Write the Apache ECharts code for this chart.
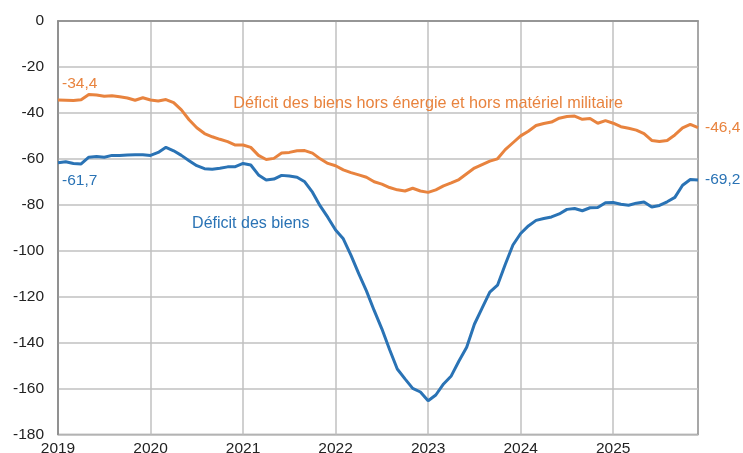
<!DOCTYPE html>
<html>
<head>
<meta charset="utf-8">
<script src="https://cdn.jsdelivr.net/npm/echarts@6/dist/echarts.min.js"></script>
<style>
html,body{margin:0;padding:0;background:#fff;}
#chart{width:743px;height:453px;}
</style>
</head>
<body>
<div id="chart"></div>
<script>
// Monthly data, Jan 2019 - Dec 2025
const years = ['2019','2020','2021','2022','2023','2024','2025'];
const months = [];
years.forEach(y => { for (let m = 1; m <= 12; m++) months.push(y + '-' + String(m).padStart(2,'0')); });

const horsEnergie = [
  -34.4,-34.5,-34.6,-34.3,-32.0,-32.2,-32.8,-32.5,-33.0,-33.5,-34.5,-33.4,
  -34.4,-34.8,-34.2,-35.5,-38.7,-43.0,-46.5,-49.0,-50.4,-51.5,-52.5,-54.0,
  -54.0,-55.0,-58.5,-60.3,-59.8,-57.5,-57.2,-56.5,-56.4,-57.5,-60.0,-62.0,
  -63.0,-64.8,-66.0,-67.0,-68.0,-70.0,-71.0,-72.5,-73.5,-74.0,-72.8,-74.0,
  -74.6,-73.5,-71.8,-70.5,-69.0,-66.5,-64.0,-62.5,-61.0,-60.0,-56.0,-53.0,
  -50.0,-48.0,-45.5,-44.6,-44.0,-42.3,-41.6,-41.4,-42.8,-42.4,-44.5,-43.4,
  -44.5,-46.0,-46.7,-47.5,-49.0,-52.0,-52.5,-52.0,-49.6,-46.5,-45.0,-46.4
];
const biens = [
  -61.7,-61.3,-62.0,-62.2,-59.3,-59.0,-59.3,-58.5,-58.6,-58.3,-58.2,-58.2,
  -58.5,-57.2,-55.0,-56.5,-58.5,-60.8,-63.0,-64.3,-64.5,-64.1,-63.5,-63.4,
  -62.0,-62.7,-67.0,-69.2,-68.8,-67.2,-67.5,-68.0,-70.0,-74.5,-80.5,-85.5,
  -91.0,-94.8,-102.0,-110.0,-117.5,-126.0,-134.0,-143.0,-151.5,-155.8,-159.9,-161.5,
  -165.3,-162.8,-158.0,-154.5,-148.0,-142.0,-132.0,-125.0,-118.0,-115.0,-106.0,-97.5,
  -92.5,-89.2,-86.8,-86.0,-85.3,-84.0,-82.0,-81.6,-82.6,-81.3,-81.2,-79.1,
  -79.0,-79.8,-80.2,-79.3,-78.8,-81.0,-80.3,-78.7,-76.8,-71.5,-69.0,-69.2
];
const yTicks = {min: -180, max: 0, interval: 20};
const nameOrange = 'Déficit des biens hors énergie et hors matériel militaire';
const nameBlue = 'Déficit des biens';

const BLUE = '#2a73b5';
const ORANGE = '#e8833e';
const fmt = v => String(v).replace('.', ',');
const tf = 'Liberation Sans, Arial, sans-serif';

const chart = echarts.init(document.getElementById('chart'));
const isJan = (i) => i % 12 === 0;
chart.setOption({
  animation: false,
  grid: {left: 58, right: 45, top: 21, bottom: 18.5, outerBoundsMode: 'none', containLabel: false,
         show: true, borderColor: '#8a8a8a', borderWidth: 1.5, backgroundColor: 'transparent'},
  xAxis: {
    type: 'category', data: months, boundaryGap: false,
    axisLine: {lineStyle: {color: '#8a8a8a', width: 1.5}},
    axisTick: {show: false},
    axisLabel: {
      interval: (i) => isJan(i), margin: 6,
      formatter: v => v.slice(0,4),
      color: '#222', fontSize: 15.5, fontFamily: tf
    },
    splitLine: {show: true, interval: (i) => isJan(i) && i > 0, lineStyle: {color: '#c0c0c0', width: 1.5}}
  },
  yAxis: {
    type: 'value', min: yTicks.min, max: yTicks.max, interval: yTicks.interval,
    axisLine: {show: true, lineStyle: {color: '#8a8a8a', width: 1.5}},
    axisTick: {show: false},
    axisLabel: {margin: 14, color: '#222', fontSize: 15.5, fontFamily: tf},
    splitLine: {show: true, lineStyle: {color: '#c0c0c0', width: 1.5}}
  },
  series: [
    {
      name: nameOrange, type: 'line', data: horsEnergie, showSymbol: false, symbol: 'none',
      lineStyle: {color: ORANGE, width: 3}, itemStyle: {color: ORANGE},
      endLabel: {show: true, formatter: p => fmt(p.value), color: ORANGE, fontSize: 15.5, distance: 7, fontFamily: tf}
    },
    {
      name: nameBlue, type: 'line', data: biens, showSymbol: false, symbol: 'none',
      lineStyle: {color: BLUE, width: 3}, itemStyle: {color: BLUE},
      endLabel: {show: true, formatter: p => fmt(p.value), color: BLUE, fontSize: 15.5, distance: 7, fontFamily: tf}
    }
  ]
});

// Annotations placed relative to data via the chart's own scales
const p0o = chart.convertToPixel({gridIndex: 0}, [0, horsEnergie[0]]);
const p0b = chart.convertToPixel({gridIndex: 0}, [0, biens[0]]);
const pNo = chart.convertToPixel({gridIndex: 0}, [23, -40]);
const pNb = chart.convertToPixel({gridIndex: 0}, [17, -89]);
chart.setOption({
  graphic: [
    {type: 'text', x: p0o[0] + 4, y: p0o[1] - 16, style: {text: fmt(horsEnergie[0]), fill: ORANGE, font: '15.5px ' + tf, textVerticalAlign: 'middle'}},
    {type: 'text', x: p0b[0] + 4, y: p0b[1] + 18, style: {text: fmt(biens[0]), fill: BLUE, font: '15.5px ' + tf, textVerticalAlign: 'middle'}},
    {type: 'text', x: pNo[0] - 2, y: pNo[1] - 9, style: {text: nameOrange, fill: ORANGE, font: '16.2px ' + tf, textVerticalAlign: 'middle'}},
    {type: 'text', x: pNb[0] + 3, y: pNb[1] - 2, style: {text: nameBlue, fill: BLUE, font: '16px ' + tf, textVerticalAlign: 'middle'}}
  ]
});
</script>
</body>
</html>
